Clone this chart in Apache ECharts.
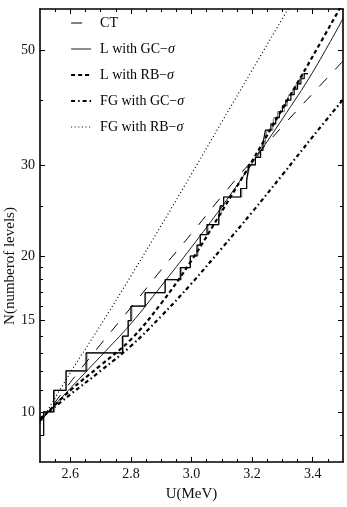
<!DOCTYPE html>
<html>
<head>
<meta charset="utf-8">
<script src="https://cdn.jsdelivr.net/npm/echarts@6/dist/echarts.min.js"></script>
<style>
  html, body { margin: 0; padding: 0; background: #fff; }
  #chart { width: 347px; height: 507px; }
</style>
</head>
<body>
<div id="chart"></div>
<script>
  // energies (MeV) where the model curves are sampled
  const uGrid = [2.5, 2.6, 2.7, 2.8, 2.9, 3.0, 3.1, 3.2, 3.3, 3.4, 3.5];
  // cumulative number of levels
  const ctN   = [9.55, 11.4, 13.5, 15.9, 18.8, 22.1, 26.1, 30.6, 35.6, 41.2, 47.6];
  const lgcN  = [9.6, 11.1, 12.8, 14.8, 17.5, 20.8, 24.9, 30.2, 36.8, 45.3, 57.5];
  const lrbN  = [9.65, 11.0, 12.3, 13.8, 16.2, 19.6, 24.4, 30.5, 38.5, 48.6, 61.7];
  const fggcN = [9.7, 10.8, 12.0, 13.4, 15.3, 17.7, 20.7, 24.3, 28.7, 34.0, 40.1];
  const fgrbN = [9.5, 11.9, 14.7, 18.3, 22.9, 28.8, 36.3, 45.7, 57.5, 72.4, 91.0];

  // experimental staircase: energy where N reaches the given count
  const levelU = [2.500, 2.512, 2.545, 2.586, 2.652, 2.772, 2.791, 2.800, 2.847, 2.913,
                  2.963, 2.996, 3.018, 3.029, 3.051, 3.090, 3.095, 3.106, 3.162, 3.182,
                  3.186, 3.190, 3.211, 3.228, 3.236, 3.240, 3.244, 3.262, 3.278, 3.290,
                  3.300, 3.311, 3.328, 3.339, 3.350, 3.361, 3.372, 3.384];
  const levelN = [9, 10, 11, 12, 13, 14, 15, 16, 17, 18,
                  19, 20, 21, 22, 23, 24, 25, 26, 27, 28,
                  29, 30, 31, 32, 33, 34, 35, 36, 37, 38,
                  39, 40, 41, 42, 43, 44, 45, 45];
  const grayU  = [2.500, 2.512, 2.548, 2.586, 2.655, 2.775, 2.791, 2.803, 2.847, 2.913,
                  2.966, 2.996, 3.021, 3.029, 3.054, 3.090, 3.098, 3.106, 3.166, 3.182,
                  3.188, 3.193, 3.211, 3.222, 3.232, 3.244, 3.250, 3.268, 3.272, 3.284,
                  3.306, 3.316, 3.322, 3.334, 3.345, 3.356, 3.366, 3.384];

  const xTickLabels = [2.6, 2.8, 3.0, 3.2, 3.4];
  const xMinorTicks = [2.55, 2.65, 2.7, 2.75, 2.85, 2.9, 2.95, 3.05, 3.1, 3.15, 3.25, 3.3, 3.35, 3.45];
  const yTickLabels = [10, 15, 20, 30, 50];
  const yMinorTicks = [9, 11, 12, 13, 14, 16, 17, 18, 19, 25, 40];

  const FONT = '"Liberation Serif", "DejaVu Serif", serif';
  const lg = v => Math.log10(v);

  const chartObj = echarts.init(document.getElementById('chart'));

  function curve(name, arr, lineStyle) {
    return {
      name: name,
      type: 'line',
      symbol: 'none',
      smooth: 0.4,
      lineStyle: Object.assign({ color: '#000' }, lineStyle),
      itemStyle: { color: '#000', opacity: 0 },
      data: uGrid.map((u, i) => [u, lg(arr[i])]),
      z: 3
    };
  }

  function stairs(us, ns, color, z) {
    return {
      type: 'line',
      symbol: 'none',
      step: 'end',
      lineStyle: { color: color, width: 1.2 },
      data: us.map((u, i) => [u, lg(ns[i])]),
      z: z
    };
  }

  function xAx(pos, ticks, len, withLabels) {
    return {
      type: 'value', position: pos, min: 2.5, max: 3.5,
      axisLine: { show: withLabels !== null, onZero: false, lineStyle: { color: '#000', width: 1.6 } },
      axisTick: { show: true, inside: true, length: len, customValues: ticks, lineStyle: { color: '#000', width: 1 } },
      axisLabel: withLabels ? {
        customValues: xTickLabels, margin: 5, color: '#111', fontFamily: FONT, fontSize: 14,
        formatter: v => v.toFixed(1)
      } : { show: false },
      splitLine: { show: false }
    };
  }

  function yAx(pos, ticks, len, withLabels) {
    return {
      type: 'value', position: pos, min: lg(8), max: lg(60),
      axisLine: { show: withLabels !== null, onZero: false, lineStyle: { color: '#000', width: 1.6 } },
      axisTick: { show: true, inside: true, length: len, customValues: ticks.map(lg), lineStyle: { color: '#000', width: 1 } },
      axisLabel: withLabels ? {
        customValues: yTickLabels.map(lg), margin: 5, color: '#111', fontFamily: FONT, fontSize: 14,
        formatter: v => String(Math.round(Math.pow(10, v)))
      } : { show: false },
      splitLine: { show: false }
    };
  }

  const xMain = xAx('bottom', xTickLabels, 5, true);
  xMain.name = 'U(MeV)';
  xMain.nameLocation = 'middle';
  xMain.nameGap = 25;
  xMain.nameTextStyle = { fontFamily: FONT, fontSize: 15, color: '#111' };

  chartObj.setOption({
    animation: false,
    backgroundColor: '#fff',
    grid: { left: 40, right: 4, top: 9, bottom: 44, containLabel: false },
    legend: {
      orient: 'vertical',
      left: 70, top: 16, padding: 0,
      itemWidth: 20, itemHeight: 14, itemGap: 12,
      itemStyle: { opacity: 0 },
      lineStyle: { width: 'inherit' },
      data: ['CT', 'L with GC\u2212\u03c3', 'L with RB\u2212\u03c3', 'FG with GC\u2212\u03c3', 'FG with RB\u2212\u03c3'],
      formatter: name => name.replace('\u03c3', '{s|\u03c3}'),
      textStyle: {
        fontFamily: FONT, fontSize: 14, color: '#000', padding: [0, 0, 0, 4],
        rich: { s: { fontFamily: FONT, fontSize: 14, fontStyle: 'italic', color: '#000' } }
      }
    },
    xAxis: [
      xMain,
      xAx('bottom', xMinorTicks, 3, null),
      xAx('top', xTickLabels, 5, false),
      xAx('top', xMinorTicks, 3, null)
    ],
    yAxis: [
      yAx('left', yTickLabels, 5, true),
      yAx('left', yMinorTicks, 3, null),
      yAx('right', yTickLabels, 5, false),
      yAx('right', yMinorTicks, 3, null)
    ],
    graphic: [{
      type: 'text',
      x: 10, y: 266,
      rotation: Math.PI / 2,
      style: {
        text: 'N(numberof levels)', fontFamily: FONT, fontSize: 15, fill: '#111',
        textAlign: 'center', textVerticalAlign: 'middle'
      }
    }],
    series: [
      stairs(grayU, levelN, '#8a8a8a', 1),
      stairs(levelU, levelN, '#000', 2),
      curve('CT', ctN, { width: 1, type: [11, 12] }),
      curve('L with GC\u2212\u03c3', lgcN, { width: 0.9, type: 'solid' }),
      curve('L with RB\u2212\u03c3', lrbN, { width: 2.2, type: [4, 3] }),
      curve('FG with GC\u2212\u03c3', fggcN, { width: 2.2, type: [4, 3, 1.5, 3] }),
      curve('FG with RB\u2212\u03c3', fgrbN, { width: 1.2, type: [1, 2.6] })
    ]
  });
</script>
</body>
</html>
